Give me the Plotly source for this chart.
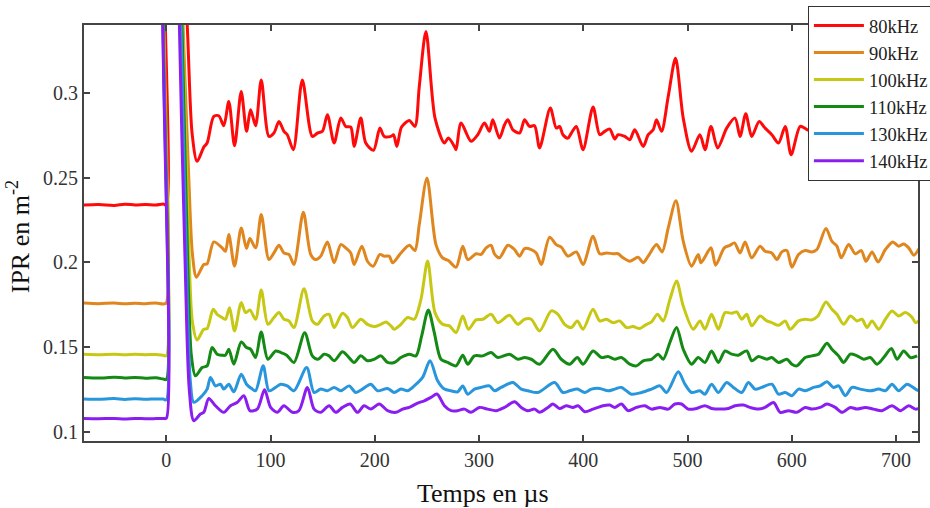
import plotly.graph_objects as go

# ---------------- data (time in µs, IPR in m^-2) ----------------
labels = ["80kHz", "90kHz", "100kHz", "110kHz", "130kHz", "140kHz"]
colors = ["#FF0A0A", "#E0861E", "#C6C814", "#148A14", "#2896DC", "#8A1EF0"]

# pre-pulse baseline times
t_base = [-79, -65, -50, -40, -30, -20, -10, -3, 0]

red_base = [0.2338, 0.2341, 0.2336, 0.2343, 0.2339, 0.2341, 0.2338, 0.2344, 0.2340]
orange_base = [0.1760, 0.1757, 0.1761, 0.1756, 0.1759, 0.1757, 0.1761, 0.1755, 0.1762]
yellow_base = [0.1458, 0.1456, 0.1459, 0.1455, 0.1458, 0.1456, 0.1457, 0.1452, 0.1450]
green_base = [0.1322, 0.1318, 0.1323, 0.1319, 0.1322, 0.1317, 0.1320, 0.1312, 0.1310]
blue_base = [0.1195, 0.1193, 0.1197, 0.1192, 0.1196, 0.1193, 0.1195, 0.1194, 0.1190]
purple_base = [0.1079, 0.1078, 0.1080, 0.1077, 0.1080, 0.1078, 0.1079, 0.1080, 0.1081]

# pulse (saturated, goes far above the visible range) and fall
red_pulse_t = [1.5, 10, 20, 24.7]
red_pulse_y = [0.45, 0.45, 0.34, 0.276]
orange_pulse_t = [1.5, 10, 16, 21.5, 25]
orange_pulse_y = [0.45, 0.45, 0.34, 0.25, 0.205]
yellow_pulse_t = [1.5, 10, 15.5, 21, 25]
yellow_pulse_y = [0.45, 0.45, 0.34, 0.22, 0.165]
green_pulse_t = [1.5, 10, 15, 20.5, 24]
green_pulse_y = [0.45, 0.45, 0.34, 0.20, 0.145]
blue_pulse_t = [1.5, 10, 14, 20, 23]
blue_pulse_y = [0.45, 0.45, 0.34, 0.18, 0.13]
purple_pulse_t = [1.5, 10, 12.5, 18, 22]
purple_pulse_y = [0.45, 0.45, 0.34, 0.20, 0.125]

# post-pulse signals
red_t = [29.5, 35.9, 39.1, 45.5, 50.3, 55.1, 59.9, 65.4, 71.8, 76.9, 80.8, 85.6, 91, 98.4,
         103.2, 108, 112.8, 116, 121.8, 130.4, 140, 144.9, 149.7, 154.5, 160.9, 167.3,
         172.1, 176.9, 180.1, 186.5, 191.3, 198.7, 204.8, 209, 215.4, 217.9, 221.1, 225.6,
         233, 238.4, 242.6, 249, 257.7, 266.7, 270.5, 276.3, 277.9, 282.7, 292.3, 298.7,
         305.1, 309.9, 313.1, 319.5, 324.4, 327.6, 332.4, 338.8, 343.6, 348.4, 353.2, 358,
         368.3, 374, 377.2, 380.4, 385.2, 388.5, 393.3, 399.7, 409.3, 415.7, 420.5, 425.3,
         430.1, 433.3, 439.7, 444.5, 449.3, 457.4, 462.2, 467, 470.2, 475, 481.4, 488.4,
         495.8, 503.8, 511.8, 516.7, 522.4, 528.8, 537.5, 545.5, 550.3, 555.8, 561.5, 568.6,
         574.3, 580.8, 587.2, 593.6, 599.3, 608, 614, 620]
red_y = [0.2596, 0.2680, 0.2704, 0.2861, 0.2865, 0.2806, 0.2949, 0.2688, 0.3008, 0.2773,
         0.2900, 0.2806, 0.3076, 0.2743, 0.2763, 0.2831, 0.2773, 0.2753, 0.2665, 0.3076,
         0.2743, 0.2763, 0.2773, 0.2871, 0.2704, 0.2851, 0.2802, 0.2798, 0.2684, 0.2851,
         0.2704, 0.2661, 0.2792, 0.2743, 0.2743, 0.2753, 0.2684, 0.2798, 0.2837, 0.2802,
         0.3037, 0.3361, 0.2851, 0.2704, 0.2733, 0.2684, 0.2665, 0.2822, 0.2714, 0.2753,
         0.2822, 0.2773, 0.2841, 0.2733, 0.2812, 0.2841, 0.2782, 0.2763, 0.2841, 0.2802,
         0.2806, 0.2675, 0.2910, 0.2792, 0.2802, 0.2753, 0.2733, 0.2763, 0.2802, 0.2665,
         0.2916, 0.2753, 0.2773, 0.2786, 0.2727, 0.2753, 0.2743, 0.2724, 0.2782, 0.2684,
         0.2753, 0.2782, 0.2841, 0.2773, 0.2978, 0.3204, 0.2851, 0.2655, 0.2753, 0.2665,
         0.2802, 0.2675, 0.2792, 0.2851, 0.2743, 0.2876, 0.2743, 0.2831, 0.2792, 0.2753,
         0.2704, 0.2802, 0.2635, 0.2802, 0.2785, 0.2770]

orange_t = [28.8, 35.9, 39.1, 45.5, 53.5, 56.7, 59.9, 65.4, 71.8, 76.9, 80.1, 85.6, 91, 98.4,
            103.2, 108, 112.8, 117.6, 122.4, 131.4, 138.5, 143.3, 148.1, 154.5, 160.9, 167.3,
            172.1, 176.9, 180.1, 187.5, 192.9, 198.4, 204.8, 209, 213.8, 217, 225, 233, 238.4,
            242.6, 250, 258.6, 265, 270.5, 277.9, 284.3, 289.1, 297.1, 301.9, 306.7, 311.5,
            314.7, 319.5, 327.6, 334, 338.8, 343.6, 350, 354.8, 359.6, 367.6, 374, 378.8,
            385.2, 393.3, 399.7, 409.3, 415.7, 422.1, 428.5, 433.3, 438.1, 444.5, 452.5,
            457.4, 462.2, 470.2, 475.6, 481.4, 488.8, 495.8, 503.8, 510.2, 512.8, 522.4,
            526.9, 535.2, 540.7, 544.9, 550.3, 555.1, 561.5, 569.5, 574.3, 580.7, 585.6,
            590.4, 595.2, 600, 606.4, 612.8, 619.2, 624, 632.7, 638.4, 643.2, 647.4, 654.5,
            660.9, 666.6, 671.1, 676.9, 682.7, 689.7, 696.8, 702.5, 707.3, 712.1, 717, 723.4]
orange_y = [0.1913, 0.1988, 0.1992, 0.2121, 0.2086, 0.2066, 0.2164, 0.1978, 0.2203, 0.2082,
            0.2141, 0.2086, 0.2282, 0.2017, 0.2056, 0.2101, 0.2056, 0.2047, 0.1988, 0.2296,
            0.2047, 0.2017, 0.2037, 0.2121, 0.1998, 0.2105, 0.2086, 0.2056, 0.1988, 0.2096,
            0.2007, 0.1978, 0.2047, 0.2037, 0.2037, 0.1998, 0.2056, 0.2101, 0.2070, 0.2223,
            0.2498, 0.2105, 0.2027, 0.2011, 0.1972, 0.2096, 0.2017, 0.2051, 0.2047, 0.2086,
            0.2101, 0.2051, 0.2027, 0.2101, 0.2076, 0.2037, 0.2082, 0.2076, 0.2056, 0.1988,
            0.2149, 0.2105, 0.2090, 0.2037, 0.2062, 0.1988, 0.2154, 0.2051, 0.2056, 0.2051,
            0.2051, 0.2027, 0.2007, 0.2031, 0.1998, 0.2037, 0.2105, 0.2062, 0.2203, 0.2364,
            0.2125, 0.1978, 0.2047, 0.1998, 0.2086, 0.1984, 0.2086, 0.2101, 0.2115, 0.2056,
            0.2121, 0.2027, 0.2096, 0.2066, 0.2056, 0.2017, 0.2062, 0.2070, 0.1972, 0.2047,
            0.2070, 0.2062, 0.2076, 0.2200, 0.2125, 0.2096, 0.2027, 0.2105, 0.2051, 0.2070,
            0.2007, 0.2062, 0.2003, 0.2076, 0.2121, 0.2096, 0.2109, 0.2086, 0.2043, 0.2096]

yellow_t = [29.5, 35.9, 39.1, 44.9, 48.7, 53.5, 56.7, 60.6, 65.4, 71.8, 76, 80.1, 85.6, 91,
            97.4, 103.2, 108, 112.8, 117.6, 122.4, 132, 140, 144.9, 151.3, 156.1, 160.9,
            168.9, 173.7, 178.5, 186.5, 192.9, 199.4, 205.8, 210.6, 215.4, 218.6, 225, 231.4,
            237.8, 244.2, 250.6, 257.7, 265, 271.5, 277.9, 284.3, 289.7, 297.1, 303.5, 311.5,
            317.9, 329.1, 337.2, 343.6, 350, 358, 369.2, 375.6, 382, 388.4, 394.2, 399.7,
            409.3, 415.7, 422.1, 428.5, 434.9, 441.3, 447.7, 454.1, 459, 465.4, 471.1, 476.6,
            483, 489.4, 495.8, 505.4, 511.8, 516.6, 523, 529.5, 535.9, 542.3, 547.1, 551.9,
            556.7, 561.5, 569.5, 575.9, 580.7, 587.2, 593.6, 598.4, 606.4, 612.8, 619.2, 625,
            632.7, 638.4, 643.2, 649.7, 656.1, 662.5, 667.3, 672.1, 676.9, 683.3, 689.7,
            696.1, 702.5, 708.9, 715.4, 718.6, 725]
yellow_y = [0.1543, 0.1606, 0.1610, 0.1724, 0.1694, 0.1675, 0.1665, 0.1733, 0.1596, 0.1763,
            0.1704, 0.1720, 0.1665, 0.1837, 0.1635, 0.1675, 0.1704, 0.1665, 0.1655, 0.1616,
            0.1845, 0.1655, 0.1635, 0.1684, 0.1694, 0.1616, 0.1700, 0.1675, 0.1616, 0.1665,
            0.1635, 0.1622, 0.1635, 0.1649, 0.1626, 0.1606, 0.1635, 0.1675, 0.1665, 0.1782,
            0.2008, 0.1704, 0.1635, 0.1626, 0.1586, 0.1684, 0.1606, 0.1661, 0.1665, 0.1694,
            0.1645, 0.1688, 0.1635, 0.1665, 0.1665, 0.1596, 0.1714, 0.1694, 0.1635, 0.1616,
            0.1655, 0.1606, 0.1724, 0.1655, 0.1665, 0.1645, 0.1655, 0.1616, 0.1622, 0.1610,
            0.1629, 0.1649, 0.1694, 0.1655, 0.1782, 0.1890, 0.1743, 0.1606, 0.1655, 0.1606,
            0.1694, 0.1606, 0.1704, 0.1700, 0.1708, 0.1665, 0.1694, 0.1626, 0.1684, 0.1655,
            0.1645, 0.1629, 0.1655, 0.1606, 0.1655, 0.1665, 0.1661, 0.1684, 0.1767, 0.1724,
            0.1694, 0.1635, 0.1684, 0.1655, 0.1665, 0.1616, 0.1655, 0.1606, 0.1665, 0.1714,
            0.1684, 0.1704, 0.1675, 0.1645, 0.1675]

green_t = [27.9, 34.3, 39.1, 43.9, 48.7, 53.5, 56.7, 59.9, 64.7, 71.8, 76.9, 80.8, 85.6, 91,
           97.4, 104.8, 109.6, 115.4, 122.4, 132.7, 140, 145.5, 151.3, 156.1, 160.9, 168.9,
           173.7, 180.1, 186.5, 192.9, 199.4, 205.8, 212.2, 218.6, 225, 233, 239.4, 244.9,
           251.3, 257, 263.4, 269.9, 277.9, 284.3, 289.1, 295.5, 303.5, 311.5, 317.9, 329.1,
           337.2, 343.6, 350, 358, 370.8, 378.8, 386.8, 394.2, 399.7, 409.3, 417.3, 423.7,
           430.1, 436.5, 444.5, 450.9, 457.4, 465.4, 471.8, 476.6, 483, 489.4, 495.8, 503.8,
           510.2, 516.6, 523, 529.5, 535.9, 542.3, 548.7, 556.7, 561.5, 567.9, 575.9, 580.7,
           587.2, 595.2, 600, 604.8, 612.8, 619.2, 625.6, 633.6, 638.4, 644.8, 649.7, 656.1,
           662.5, 668.9, 675.3, 681.7, 688.1, 695.5, 700.9, 707.3, 713.7, 720.2]
green_y = [0.1331, 0.1380, 0.1390, 0.1498, 0.1459, 0.1453, 0.1453, 0.1488, 0.1400, 0.1531,
           0.1498, 0.1488, 0.1439, 0.1590, 0.1429, 0.1478, 0.1469, 0.1453, 0.1410, 0.1586,
           0.1449, 0.1429, 0.1459, 0.1449, 0.1420, 0.1473, 0.1449, 0.1410, 0.1449, 0.1420,
           0.1429, 0.1449, 0.1410, 0.1410, 0.1439, 0.1459, 0.1449, 0.1567, 0.1720, 0.1586,
           0.1429, 0.1410, 0.1390, 0.1453, 0.1400, 0.1449, 0.1449, 0.1469, 0.1439, 0.1459,
           0.1429, 0.1439, 0.1429, 0.1400, 0.1488, 0.1429, 0.1400, 0.1439, 0.1400, 0.1478,
           0.1439, 0.1445, 0.1429, 0.1439, 0.1400, 0.1390, 0.1420, 0.1429, 0.1459, 0.1429,
           0.1528, 0.1616, 0.1488, 0.1400, 0.1439, 0.1410, 0.1478, 0.1410, 0.1478, 0.1459,
           0.1453, 0.1478, 0.1420, 0.1445, 0.1429, 0.1439, 0.1410, 0.1429, 0.1400, 0.1390,
           0.1439, 0.1449, 0.1459, 0.1524, 0.1488, 0.1449, 0.1410, 0.1459, 0.1449, 0.1429,
           0.1439, 0.1400, 0.1439, 0.1492, 0.1429, 0.1478, 0.1439, 0.1449]

blue_t = [26.3, 34.3, 39.1, 42.3, 47.1, 51.9, 55.1, 59.9, 64.7, 71.8, 76.9, 82.4, 85.6, 92.9,
          98.4, 104.8, 109.6, 116, 122.4, 134.6, 141.7, 148.1, 154.5, 160.9, 167.3, 175.3,
          181.7, 188.1, 196.1, 202.6, 212.2, 218.6, 225, 231.4, 237.8, 245.8, 252.9, 260.2,
          266.7, 273.1, 279.5, 284.3, 289.1, 295.5, 301.9, 309.9, 314.7, 321.1, 332.4, 340.4,
          346.8, 356.4, 372.4, 380.4, 386.8, 394.2, 401.3, 407.7, 415.7, 423.7, 430.1, 436.5,
          446.1, 455.8, 465.4, 473.4, 479.8, 491, 497.4, 503.8, 511.8, 516.6, 523, 529.5,
          537.5, 543.9, 551.9, 558.3, 564.7, 571.1, 580.7, 587.2, 593.6, 600, 606.4, 612.8,
          620.8, 627.2, 633.6, 640, 644.8, 651.3, 657.7, 665.7, 675.3, 683.3, 689.7, 696.1,
          702.5, 710.5, 718.6, 725]
blue_y = [0.1175, 0.1214, 0.1253, 0.1322, 0.1272, 0.1282, 0.1253, 0.1282, 0.1237, 0.1341,
          0.1282, 0.1253, 0.1243, 0.1390, 0.1243, 0.1263, 0.1282, 0.1272, 0.1243, 0.1380,
          0.1233, 0.1253, 0.1243, 0.1263, 0.1243, 0.1272, 0.1233, 0.1253, 0.1282, 0.1243,
          0.1257, 0.1233, 0.1253, 0.1243, 0.1272, 0.1322, 0.1420, 0.1302, 0.1253, 0.1243,
          0.1237, 0.1272, 0.1223, 0.1253, 0.1263, 0.1272, 0.1243, 0.1263, 0.1292, 0.1253,
          0.1243, 0.1233, 0.1292, 0.1233, 0.1243, 0.1253, 0.1233, 0.1253, 0.1257, 0.1243,
          0.1253, 0.1263, 0.1223, 0.1233, 0.1253, 0.1272, 0.1233, 0.1355, 0.1282, 0.1233,
          0.1243, 0.1223, 0.1282, 0.1233, 0.1292, 0.1263, 0.1233, 0.1292, 0.1253, 0.1263,
          0.1282, 0.1223, 0.1233, 0.1214, 0.1253, 0.1243, 0.1263, 0.1272, 0.1296, 0.1263,
          0.1272, 0.1214, 0.1263, 0.1253, 0.1243, 0.1253, 0.1243, 0.1282, 0.1243, 0.1282,
          0.1253, 0.1233]

purple_t = [26.3, 32.7, 35.9, 40.7, 47.1, 55.1, 61.5, 67.9, 74.4, 80.1, 87.2, 94.2, 100,
            106.4, 112.8, 120.8, 127.2, 135.3, 141.7, 148.1, 156.1, 162.5, 168.9, 176.3,
            183.3, 189.7, 196.1, 204.2, 212.2, 220.2, 226.6, 233, 241, 247.4, 253.8, 259.6,
            266.7, 273.1, 279.5, 285.9, 292.3, 300.3, 308.3, 316.3, 324.3, 334, 340.4, 346.8,
            353.2, 358, 366, 370.8, 377.2, 383.6, 390, 394.9, 401.3, 409.3, 418.9, 425.3,
            430.1, 436.5, 442.9, 450.9, 459, 465.4, 473.4, 481.4, 487.8, 494.2, 500.6, 508.6,
            516.6, 523, 531.1, 539.1, 545.5, 553.5, 559.9, 567.9, 574.3, 582.4, 588.8, 596.8,
            604.8, 612.8, 619.2, 627.2, 633.6, 641.6, 648.1, 656.1, 662.5, 670.5, 678.5,
            686.5, 696.1, 704.1, 712.1, 718.6, 725]
purple_y = [0.1067, 0.1106, 0.1116, 0.1198, 0.1155, 0.1116, 0.1155, 0.1174, 0.1214, 0.1126,
            0.1135, 0.1249, 0.1145, 0.1116, 0.1155, 0.1116, 0.1126, 0.1263, 0.1135, 0.1116,
            0.1155, 0.1116, 0.1145, 0.1165, 0.1116, 0.1155, 0.1135, 0.1165, 0.1126, 0.1116,
            0.1135, 0.1145, 0.1171, 0.1184, 0.1204, 0.1224, 0.1155, 0.1126, 0.1126, 0.1135,
            0.1116, 0.1145, 0.1135, 0.1126, 0.1145, 0.1178, 0.1145, 0.1126, 0.1135, 0.1116,
            0.1145, 0.1165, 0.1139, 0.1155, 0.1145, 0.1155, 0.1120, 0.1135, 0.1155, 0.1159,
            0.1145, 0.1165, 0.1126, 0.1145, 0.1155, 0.1135, 0.1145, 0.1135, 0.1165, 0.1165,
            0.1135, 0.1139, 0.1155, 0.1139, 0.1135, 0.1139, 0.1155, 0.1159, 0.1145, 0.1135,
            0.1145, 0.1174, 0.1116, 0.1126, 0.1116, 0.1145, 0.1135, 0.1145, 0.1165, 0.1145,
            0.1116, 0.1145, 0.1135, 0.1145, 0.1135, 0.1126, 0.1155, 0.1126, 0.1155, 0.1135,
            0.1145]

x_tickvals = [0, 100, 200, 300, 400, 500, 600, 700]
y_tickvals = [0.1, 0.15, 0.2, 0.25, 0.3]
y_ticktext = ["0.1", "0.15", "0.2", "0.25", "0.3"]

series = [
    (red_base, red_pulse_t, red_pulse_y, red_t, red_y),
    (orange_base, orange_pulse_t, orange_pulse_y, orange_t, orange_y),
    (yellow_base, yellow_pulse_t, yellow_pulse_y, yellow_t, yellow_y),
    (green_base, green_pulse_t, green_pulse_y, green_t, green_y),
    (blue_base, blue_pulse_t, blue_pulse_y, blue_t, blue_y),
    (purple_base, purple_pulse_t, purple_pulse_y, purple_t, purple_y),
]

FONT = "Liberation Serif"
fig = go.Figure()
for (base, pt, py, tt, yy), name, col in zip(series, labels, colors):
    fig.add_trace(go.Scatter(
        x=t_base + pt + tt, y=base + py + yy, mode="lines", name=name,
        line=dict(color=col, width=3, shape="spline", smoothing=0.8),
    ))

axis_common = dict(showline=True, linecolor="#444444", linewidth=2, mirror="ticks",
                   ticks="inside", ticklen=6, tickwidth=1.5, tickcolor="#444444",
                   showgrid=False, zeroline=False,
                   tickfont=dict(family=FONT, size=20, color="#333333"))

fig.update_xaxes(range=[-79, 721], tickvals=x_tickvals, **axis_common)
fig.update_yaxes(range=[0.0947, 0.34], tickvals=y_tickvals, ticktext=y_ticktext,
                 **axis_common)

fig.update_layout(
    width=930, height=508,
    margin=dict(l=84, r=12, t=25, b=67, autoexpand=False),
    paper_bgcolor="white", plot_bgcolor="white",
    showlegend=True,
    legend=dict(x=0.868, y=1.046, xanchor="left", yanchor="top",
                bgcolor="white", bordercolor="#333333", borderwidth=1,
                font=dict(family=FONT, size=18.5, color="#222222"),
                tracegroupgap=0, itemwidth=50),
    annotations=[
        dict(text="Temps en µs", xref="paper", yref="paper", x=0.478, y=-0.125,
             xanchor="center", yanchor="middle", showarrow=False,
             font=dict(family=FONT, size=26, color="#111111")),
        dict(text="IPR en m<sup>-2</sup>", xref="paper", yref="paper", x=-0.079, y=0.49,
             xanchor="center", yanchor="middle", showarrow=False, textangle=-90,
             font=dict(family=FONT, size=26, color="#111111")),
    ],
)

fig.write_html("out.html", config={"displayModeBar": False},
               post_script="document.body.style.margin='0';")
